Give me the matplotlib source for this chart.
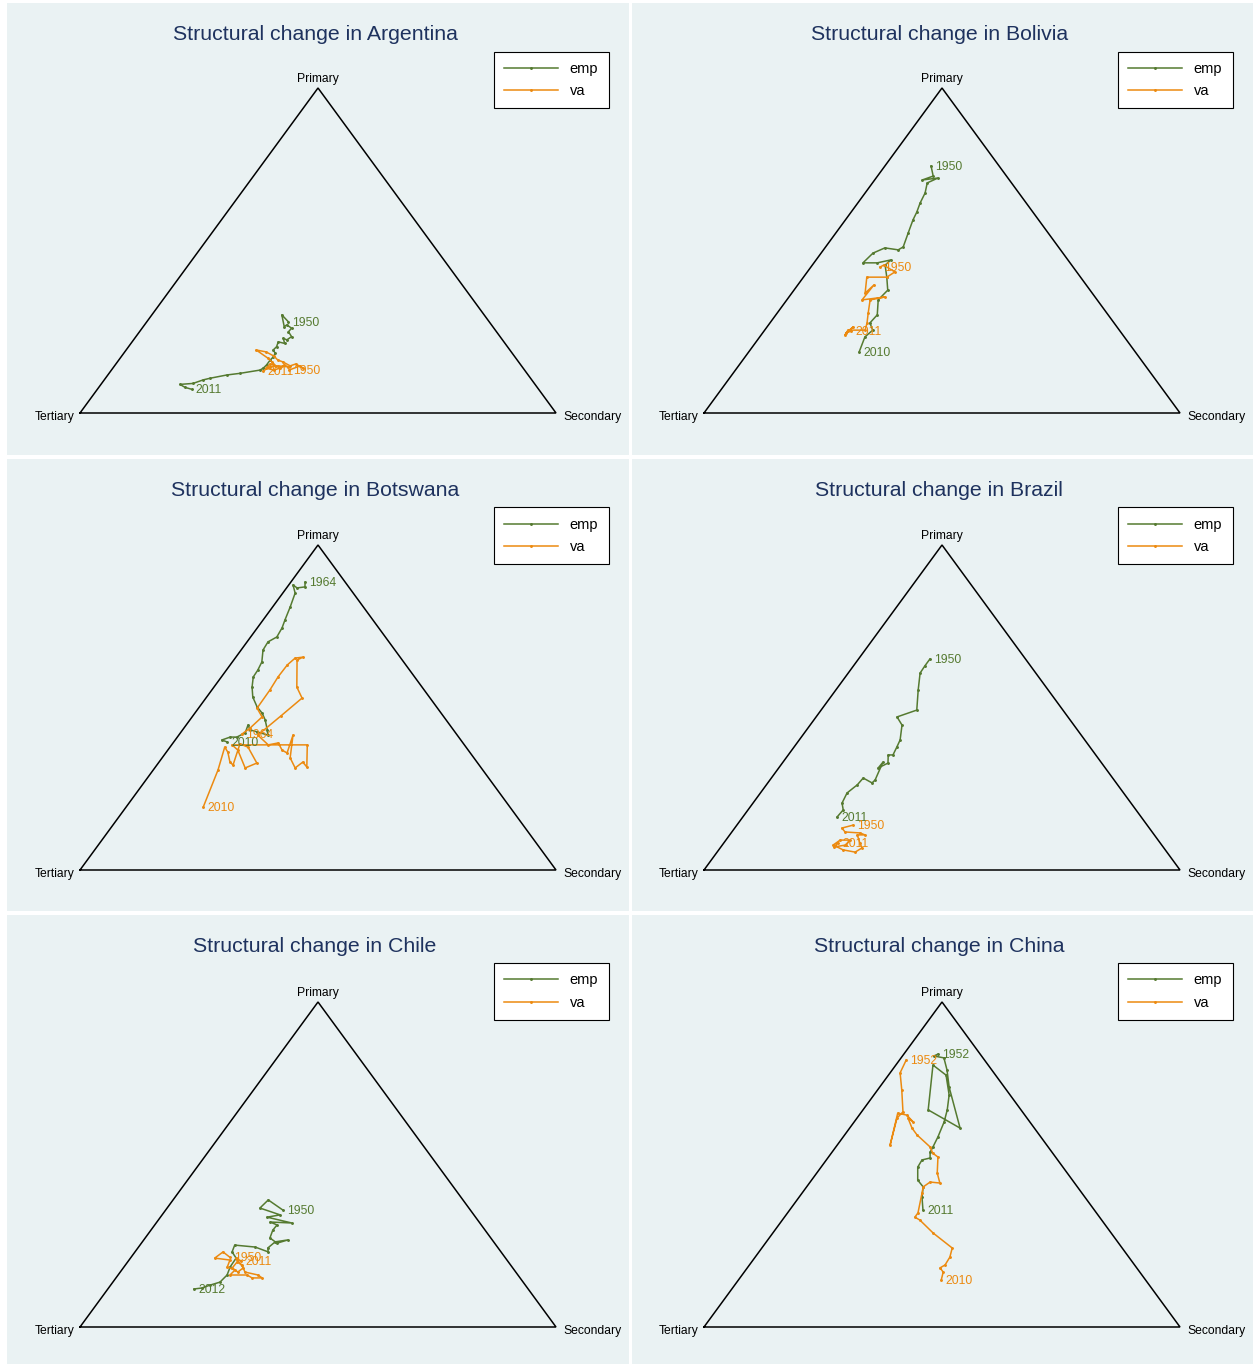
import matplotlib
matplotlib.use("Agg")
import matplotlib.pyplot as plt
from matplotlib.lines import Line2D

plt.rcParams['font.family'] = ['Liberation Sans', 'DejaVu Sans']

# Sector shares (%) of primary and secondary activity; tertiary is the remainder.
countries = ['Argentina', 'Bolivia', 'Botswana', 'Brazil', 'Chile', 'China']

arg_emp_primary = [28.1, 30.2, 26.6, 27.1, 26.1, 25.0, 23.5, 22.5, 23.0, 21.4, 21.9, 20.4, 19.4, 18.4,
                   17.3, 16.3, 14.8, 13.8, 13.2, 12.2, 11.7, 10.7, 10.2, 9.1, 8.8, 7.9, 7.3]
arg_emp_secondary = [29.7, 27.3, 29.6, 29.9, 31.4, 31.3, 32.7, 32.2, 31.2, 32.3, 30.7, 31.1, 30.9, 31.8,
                     32.0, 31.8, 31.8, 31.6, 31.2, 27.5, 25.0, 22.0, 20.8, 19.2, 16.6, 18.1, 19.8]
arg_va_primary = [13.2, 14.5, 13.8, 15.1, 14.5, 15.7, 16.3, 17.5, 18.8, 19.4, 16.9, 15.7, 14.5, 15.1,
                  13.8, 13.2, 13.8, 14.8, 14.2, 14.5, 14.2, 12.9]
arg_va_secondary = [37.3, 39.0, 39.9, 37.8, 36.9, 34.8, 33.4, 32.0, 29.7, 27.3, 31.0, 32.5, 33.9, 32.4,
                    32.2, 34.1, 35.1, 35.5, 36.6, 34.4, 32.8, 32.0]

bol_emp_primary = [76.0, 72.9, 71.7, 72.3, 70.8, 67.7, 64.6, 61.8, 59.4, 55.4, 51.1, 50.2, 50.8, 49.2,
                   46.2, 46.2, 47.1, 45.5, 41.8, 37.8, 34.8, 30.2, 27.7, 25.5, 23.4, 18.8]
bol_emp_secondary = [9.7, 11.7, 10.0, 13.0, 11.5, 12.6, 13.1, 13.8, 14.2, 15.2, 16.3, 15.7, 12.6, 10.9,
                     10.3, 13.3, 15.7, 15.3, 17.5, 19.7, 19.2, 21.3, 21.0, 22.7, 22.1, 23.2]
bol_va_primary = [44.9, 45.5, 43.4, 41.8, 41.8, 36.9, 39.4, 34.8, 35.7, 34.8, 30.8, 27.7, 25.5, 25.5,
                  24.0, 26.5, 24.6, 25.2]
bol_va_secondary = [14.5, 15.0, 18.4, 17.5, 13.3, 15.4, 16.0, 15.8, 20.2, 17.5, 19.1, 20.4, 21.1, 17.5,
                    17.6, 18.1, 17.5, 18.3]

bwa_emp_primary = [88.6, 87.1, 86.8, 87.7, 85.2, 80.9, 76.9, 74.5, 71.7, 70.2, 67.7, 64.0, 61.5, 59.4,
                   56.3, 53.2, 50.2, 48.3, 46.2, 43.1, 41.5, 42.5, 43.1, 44.6, 42.2, 40.9, 40.9, 40.0, 39.4]
bwa_emp_secondary = [3.0, 3.7, 2.2, 0.9, 2.6, 3.7, 4.6, 5.2, 5.5, 4.4, 4.6, 6.2, 6.6, 6.7,
                     8.0, 9.7, 12.1, 14.1, 15.8, 17.8, 18.7, 16.0, 14.2, 13.0, 13.6, 12.5, 11.1, 9.8, 11.2]
bwa_va_primary = [41.8, 43.7, 47.1, 49.8, 55.4, 59.4, 63.1, 65.2, 65.5, 64.6, 56.3, 52.9, 47.4, 41.5,
                  38.5, 39.1, 36.9, 36.0, 41.5, 34.5, 31.4, 33.2, 31.7, 38.5, 38.5, 36.9, 31.4, 32.9,
                  37.8, 38.8, 32.3, 33.2, 36.3, 37.8, 30.8, 19.4]
bwa_va_secondary = [13.1, 13.9, 14.7, 12.3, 12.2, 11.9, 12.0, 12.6, 14.1, 13.3, 17.4, 20.2, 18.5, 16.6,
                    20.3, 22.1, 24.0, 25.5, 24.0, 26.9, 29.5, 30.2, 31.8, 28.5, 12.7, 14.7, 19.0, 20.7,
                    16.4, 14.2, 16.0, 14.9, 12.9, 11.5, 13.6, 16.2]

bra_emp_primary = [64.9, 62.8, 60.6, 55.4, 49.2, 47.1, 44.6, 40.0, 37.8, 35.4, 35.4, 32.9, 31.4, 33.2,
                   27.7, 26.8, 28.3, 26.2, 23.7, 20.6, 18.5, 16.3]
bra_emp_secondary = [15.0, 15.0, 15.1, 17.3, 20.1, 17.0, 19.3, 21.2, 21.6, 22.0, 21.0, 22.2, 20.9, 21.0,
                     22.1, 21.9, 19.3, 19.1, 18.2, 18.7, 20.0, 19.8]
bra_va_primary = [13.8, 12.9, 11.7, 11.4, 10.8, 10.8, 8.3, 6.8, 5.5, 6.2, 7.7, 9.2, 9.2, 7.7, 7.1, 8.3]
bra_va_secondary = [24.4, 22.5, 23.8, 27.1, 28.4, 26.8, 28.6, 29.8, 29.0, 26.1, 23.3, 24.0, 26.1, 26.0,
                    23.8, 24.0]

chl_emp_primary = [36.0, 39.1, 36.6, 34.5, 33.8, 32.0, 32.3, 31.4, 29.8, 27.4, 25.8, 26.8, 26.2, 24.3,
                   23.1, 24.6, 25.2, 23.1, 21.2, 18.5, 16.0, 13.8, 12.9, 12.0, 11.7]
chl_emp_secondary = [24.6, 20.0, 19.5, 24.8, 22.4, 28.5, 23.8, 25.7, 25.6, 26.2, 28.5, 30.3, 27.9, 27.3,
                     28.0, 24.5, 19.9, 20.4, 22.2, 22.3, 22.9, 22.5, 20.9, 19.6, 18.1]
chl_va_primary = [21.5, 23.1, 21.2, 20.6, 18.5, 17.5, 16.0, 16.0, 15.1, 15.1, 16.0, 16.9, 19.1, 20.0,
                  18.2, 16.9, 18.2, 21.2, 20.3]
chl_va_secondary = [20.7, 18.5, 17.7, 21.2, 21.7, 23.8, 23.5, 27.1, 28.6, 30.7, 29.4, 26.2, 24.5, 23.0,
                    22.9, 24.7, 25.2, 22.2, 23.7]

chn_emp_primary = [84.0, 83.4, 82.8, 79.1, 73.8, 61.2, 66.8, 80.6, 77.5, 71.4, 66.8, 63.1, 58.5, 55.4,
                   53.8, 52.0, 51.4, 49.2, 45.2, 43.1, 40.0, 36.0]
chn_emp_secondary = [7.2, 6.6, 9.0, 11.5, 14.6, 23.2, 13.7, 7.8, 12.1, 15.8, 17.7, 18.9, 19.9, 20.4,
                     20.6, 21.5, 20.1, 20.3, 22.3, 24.5, 25.8, 28.0]
chn_va_primary = [82.2, 78.2, 72.9, 66.2, 64.3, 56.0, 65.8, 65.2, 63.1, 64.3, 61.2, 59.1, 55.4, 53.5,
                  52.3, 47.4, 44.3, 44.6, 43.1, 41.2, 35.1, 33.8, 32.9, 28.9, 24.3, 21.5, 19.1, 18.2,
                  16.9, 14.5]
chn_va_secondary = [1.4, 2.1, 5.1, 8.7, 8.4, 11.1, 7.8, 10.0, 12.4, 10.7, 13.1, 15.2, 19.8, 21.3,
                    23.0, 25.3, 27.4, 25.2, 24.5, 25.2, 27.4, 27.4, 28.9, 33.7, 40.0, 40.9, 41.1, 40.5,
                    41.8, 42.6]

# first and last year of each series (emp, va)
emp_years = [(1950, 2011), (1950, 2010), (1964, 2010), (1950, 2011), (1950, 2012), (1952, 2011)]
va_years = [(1950, 2011), (1950, 2011), (1964, 2010), (1950, 2011), (1950, 2011), (1952, 2010)]

vertex_labels = ['Primary', 'Secondary', 'Tertiary']
series_names = ['emp', 'va']

series = {
    'Argentina': ((arg_emp_primary, arg_emp_secondary), (arg_va_primary, arg_va_secondary)),
    'Bolivia': ((bol_emp_primary, bol_emp_secondary), (bol_va_primary, bol_va_secondary)),
    'Botswana': ((bwa_emp_primary, bwa_emp_secondary), (bwa_va_primary, bwa_va_secondary)),
    'Brazil': ((bra_emp_primary, bra_emp_secondary), (bra_va_primary, bra_va_secondary)),
    'Chile': ((chl_emp_primary, chl_emp_secondary), (chl_va_primary, chl_va_secondary)),
    'China': ((chn_emp_primary, chn_emp_secondary), (chn_va_primary, chn_va_secondary)),
}

EMP_COLOR = '#557A30'
VA_COLOR = '#EC8A10'
PANEL_BG = '#EAF2F3'
TITLE_COLOR = '#1E325E'

W, H = 1253, 1364
fig = plt.figure(figsize=(W / 100, H / 100), dpi=100)
fig.patch.set_facecolor('white')

col_box = [(7, 629), (632, 1253)]
row_box = [(3, 455), (459, 911), (915, 1364)]
tri_left = [80, 704]
tri_base = [413, 870, 1327]
TRI_W, TRI_H = 476.0, 325.0


def to_xy(primary, secondary):
    """Ternary shares (%) to plane coordinates: Tertiary (0,0), Secondary (1,0), Primary (0.5,1)."""
    xs = [s / 100 + p / 200 for p, s in zip(primary, secondary)]
    ys = [p / 100 for p in primary]
    return xs, ys


LINE_KW = dict(lw=1.1, marker='o', markersize=1.1)

for i, country in enumerate(countries):
    r, c = divmod(i, 2)
    l, rr = col_box[c]
    t, b = row_box[r]
    ax = fig.add_axes([l / W, 1 - b / H, (rr - l) / W, (b - t) / H])
    ax.set_facecolor(PANEL_BG)
    ax.set_xlim((l - tri_left[c]) / TRI_W, (rr - tri_left[c]) / TRI_W)
    ax.set_ylim((tri_base[r] - b) / TRI_H, (tri_base[r] - t) / TRI_H)
    for sp in ax.spines.values():
        sp.set_visible(False)
    ax.set_xticks([])
    ax.set_yticks([])

    # triangle frame and corner labels
    ax.plot([0, 1, 0.5, 0], [0, 0, 1, 0], color='black', lw=1.1, solid_joinstyle='miter', zorder=2)
    ax.annotate(vertex_labels[0], (0.5, 1), xytext=(0, 3), textcoords='offset pixels',
                ha='center', va='bottom', fontsize=8.7)
    ax.annotate(vertex_labels[1], (1, 0), xytext=(7, -4), textcoords='offset pixels',
                ha='left', va='center', fontsize=8.7)
    ax.annotate(vertex_labels[2], (0, 0), xytext=(-5, -4), textcoords='offset pixels',
                ha='right', va='center', fontsize=8.7)

    (ep, es), (vp, vs) = series[country]
    for (p, s), color, yrs in [((ep, es), EMP_COLOR, emp_years[i]), ((vp, vs), VA_COLOR, va_years[i])]:
        xs, ys = to_xy(p, s)
        ax.plot(xs, ys, color=color, zorder=3, **LINE_KW)
        for (x, y), yr in zip([(xs[0], ys[0]), (xs[-1], ys[-1])], yrs):
            ax.annotate(str(yr), (x, y), xytext=(4, -1), textcoords='offset pixels',
                        ha='left', va='center', fontsize=8.7, color=color, zorder=4)

    title_y = (tri_base[r] - (t + 31)) / TRI_H
    ax.text(0.494, title_y, f'Structural change in {country}', ha='center', va='center',
            fontsize=15.3, color=TITLE_COLOR)

    handles = [Line2D([], [], color=EMP_COLOR, **LINE_KW),
               Line2D([], [], color=VA_COLOR, **LINE_KW)]
    anchor = ((608.5 - 7) / 622, 1 - (51.5 - 3) / 452)
    leg = ax.legend(handles, series_names, loc='upper right', bbox_to_anchor=anchor,
                    borderaxespad=0, fontsize=10.5, handlelength=3.7, handletextpad=0.8,
                    borderpad=0.7, labelspacing=0.57, fancybox=False, framealpha=1,
                    edgecolor='black', facecolor='white', numpoints=1)
    leg.get_frame().set_linewidth(0.8)

fig.savefig('out.png', dpi=100, facecolor='white')
